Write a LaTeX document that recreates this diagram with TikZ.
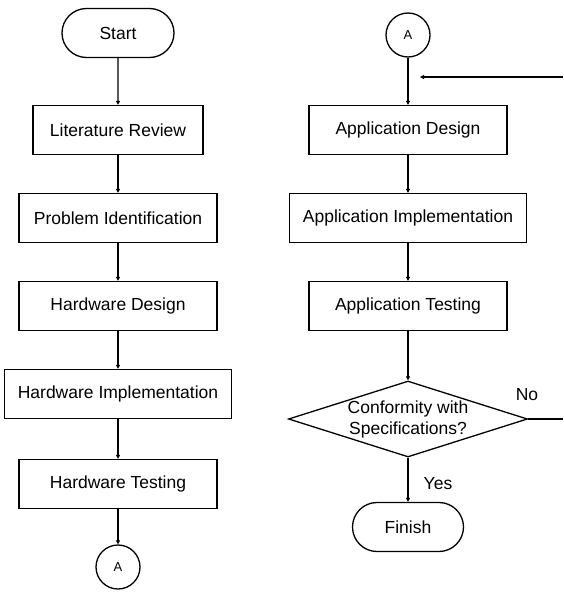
\documentclass[tikz,border=0pt]{standalone}
\usepackage{fontspec}
\setmainfont{Liberation Sans}
\usepackage{tikz}
\usetikzlibrary{shapes, arrows.meta}

\begin{document}
\begin{tikzpicture}[x=1pt, y=-1pt, line width=1.3pt,
	every node/.style={font=\fontsize{17.5}{21}\selectfont},
	box/.style={draw = black, rectangle, minimum height=49pt, inner sep=0pt},
	term/.style={draw = black, rounded rectangle, minimum width=112pt, minimum height=49pt, inner sep=0pt},
	conn/.style={draw = black, circle, minimum size=44pt, inner sep=0pt, font=\fontsize{13}{15}\selectfont},
	dec/.style={draw = black, diamond, aspect=3.14, minimum width=239pt, minimum height=76pt, inner sep=0pt, align=center},
	flow/.style={-{Triangle[length=4pt, width=4pt]}}]
			\useasboundingbox (0,0) rectangle (563,597);
			
			\node (S) [term] at (118,33){Start};
			\node (LR) [box, minimum width=170pt] at (118,130){Literature Review};
			\node (PI) [box, minimum width=198pt] at (118,218){Problem Identification};
			\node (HD) [box, minimum width=198pt] at (118,306){Hardware Design};
			\node (HI) [box, minimum width=227pt] at (118,394){Hardware Implementation};
			\node (HT) [box, minimum width=198pt] at (118,484){Hardware Testing};
			\node (A1) [conn] at (118,567){A};
			
			\node (A2) [conn] at (408,35){A};
			\node (AD) [box, minimum width=198pt] at (408,130){Application Design};
			\node (AI) [box, minimum width=237pt] at (408,218){Application Implementation};
			\node (AT) [box, minimum width=198pt] at (408,306){Application Testing};
			\node (C) [dec] at (408,419){Conformity with\\Specifications?};
			\node (F) [term, minimum width=111pt] at (408,527){Finish};
			
			\node (no) at (527,395){No};
			\node (yes) at (438,484){Yes};
			
			\coordinate (noend) at (563,419);
			\coordinate (back) at (563,77);
			\coordinate (backtip) at (420,77);
			
			\draw[flow](S)--(LR);
			\draw[flow](LR)--(PI);
			\draw[flow](PI)--(HD);
			\draw[flow](HD)--(HI);
			\draw[flow](HI)--(HT);
			\draw[flow](HT)--(A1);
			
			\draw[flow](A2)--(AD);
			\draw[flow](AD)--(AI);
			\draw[flow](AI)--(AT);
			\draw[flow](AT)--(C);
			\draw[flow](C)--(F);
			
			\draw(C.east)--(noend);
			\draw[flow](back)--(backtip);
		\end{tikzpicture}
\end{document}
